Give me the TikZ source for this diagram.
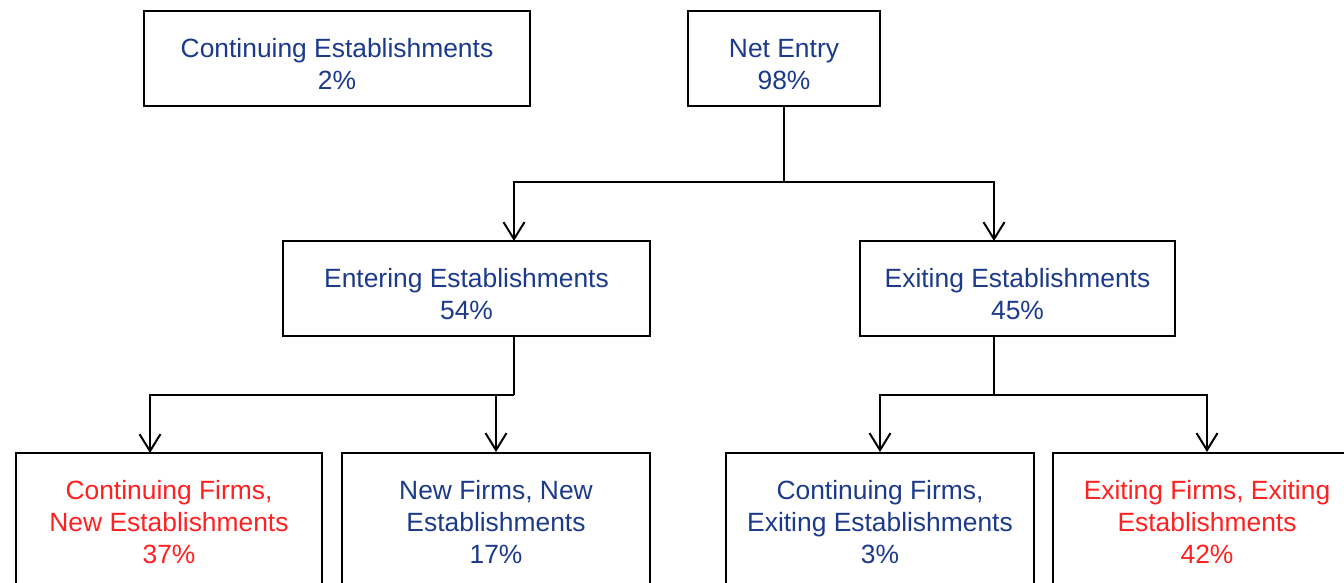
\documentclass[tikz,border=0pt]{standalone}
\usepackage{fontspec}
\setmainfont{Liberation Sans}
\usetikzlibrary{arrows.meta}
\definecolor{tblue}{RGB}{28,58,138}
\definecolor{tred}{RGB}{255,32,32}
\newcommand{\lowstrut}{\rule{0pt}{15pt}}
\tikzset{
  box/.style={draw=black, line width=1pt, rectangle, inner sep=0pt, align=center,
    font=\fontsize{13.2pt}{16pt}\selectfont, text=tblue},
  redtext/.style={text=tred},
  conn/.style={draw=black, line width=1pt},
  arr/.style={conn, -{Straight Barb[length=8.5pt,width=10.5pt,line width=1pt]}}
}
\begin{document}
\begin{tikzpicture}[x=0.5pt,y=-0.5pt]
\useasboundingbox (0,0) rectangle (1344,583);
\begin{scope}
\clip (0,0) rectangle (1344,583);
\node[box, minimum width=193pt, minimum height=47.5pt] (ce) at (337,58.5) {\lowstrut Continuing Establishments\\2\%};
\node[box, minimum width=96pt, minimum height=47.5pt] (ne) at (784,58.5) {\lowstrut Net Entry\\98\%};
\node[box, minimum width=183.5pt, minimum height=47.5pt] (en) at (466.5,288.5) {\lowstrut Entering Establishments\\54\%};
\node[box, minimum width=157.5pt, minimum height=47.5pt] (ex) at (1017.5,288.5) {\lowstrut Exiting Establishments\\45\%};
\node[box, redtext, minimum width=153pt, minimum height=69pt] (b1) at (169,522) {Continuing Firms,\\New Establishments\\37\%};
\node[box, minimum width=154pt, minimum height=69pt] (b2) at (496,522) {New Firms, New\\Establishments\\17\%};
\node[box, minimum width=154pt, minimum height=69pt] (b3) at (880,522) {Continuing Firms,\\Exiting Establishments\\3\%};
\node[box, redtext, minimum width=154pt, minimum height=69pt] (b4) at (1207,522) {Exiting Firms, Exiting\\Establishments\\42\%};
\end{scope}
\coordinate (j1) at (784,182);
\coordinate (enin) at (514,241);
\coordinate (exin) at (994,241);
\coordinate (enout) at (514,336);
\coordinate (exout) at (994,336);
\coordinate (j2) at (514,395);
\coordinate (j3) at (994,395);
\coordinate (b1in) at (150,453);
\draw[conn] (ne.south) -- (j1);
\draw[arr] (j1) -| (enin);
\draw[arr] (j1) -| (exin);
\draw[conn] (enout) -- (j2);
\draw[arr] (j2) -| (b1in);
\draw[arr] (j2) -| (b2.north);
\draw[conn] (exout) -- (j3);
\draw[arr] (j3) -| (b3.north);
\draw[arr] (j3) -| (b4.north);
\end{tikzpicture}
\end{document}
